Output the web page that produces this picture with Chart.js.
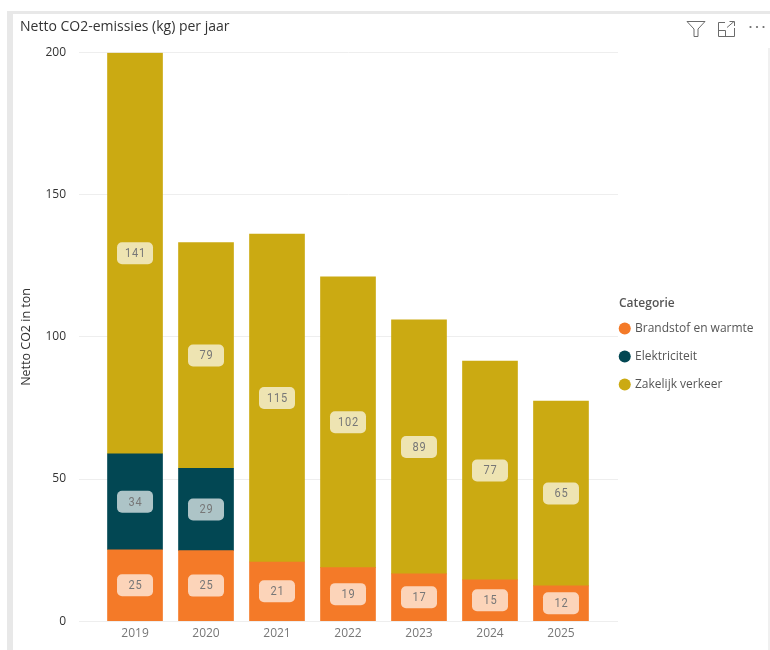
<!DOCTYPE html>
<html>
<head>
<meta charset="utf-8">
<title>Netto CO2-emissies</title>
<script src="https://cdn.jsdelivr.net/npm/chart.js@4"></script>
<style>
    html, body { margin: 0; padding: 0; background: #fff; }
    #wrap { position: relative; width: 770px; height: 650px; overflow: hidden; }
    #frame { position: absolute; left: 7px; top: 11px; width: 780px; height: 660px; border: solid #e8e8e8; border-width: 3px 0 0 6px; }
    #edge { position: absolute; left: 768px; top: 48px; width: 2px; height: 602px; background: #f0f0f0; }
    #chart { position: absolute; left: 0; top: 0; }
    #icons { position: absolute; left: 680px; top: 16px; }
</style>
</head>
<body>
<div id="wrap">
    <div id="frame"></div>
    <div id="edge"></div>
    <canvas id="chart" width="770" height="650"></canvas>
    <svg id="icons" width="90" height="24" fill="none" stroke="#6b6b6b" stroke-width="1">
        <path d="M7 5.5 H25 L18 13 V20.5 L14 20.5 V13 Z"/>
        <path d="M45 6.5 H38.5 V20.5 H54.5 V12 M38.5 14.5 H45.5 V20.5 M47 11.5 L54 5.5 M49.5 5.5 H54.5 V10"/>
        <circle cx="70.5" cy="11" r="1.1" fill="#6b6b6b" stroke="none"/>
        <circle cx="77" cy="11" r="1.1" fill="#6b6b6b" stroke="none"/>
        <circle cx="83.5" cy="11" r="1.1" fill="#6b6b6b" stroke="none"/>
    </svg>
</div>
<script>
const years = [2019, 2020, 2021, 2022, 2023, 2024, 2025];
const brandstof = [25.1, 24.8, 20.8, 18.8, 16.6, 14.5, 12.4];
const elektriciteit = [33.8, 29, null, null, null, null, null];
const zakelijk = [141.1, 79.4, 115.4, 102.4, 89.4, 77, 65];
const yTicks = [0, 50, 100, 150, 200];

const uiFont = "'Open Sans', 'Noto Sans', sans-serif";

// labels in a rounded, half transparent box in the middle of each bar piece
const pillLabels = {
    id: 'pillLabels',
    afterDatasetsDraw(chart) {
        const ctx = chart.ctx;
        chart.data.datasets.forEach((ds, i) => {
            chart.getDatasetMeta(i).data.forEach((bar, j) => {
                const v = ds.data[j];
                if (v == null) return;
                const y = (bar.y + bar.base) / 2;
                ctx.save();
                ctx.fillStyle = 'rgba(255,255,255,0.68)';
                ctx.beginPath();
                ctx.roundRect(bar.x - 18, y - 11, 36, 22, 5);
                ctx.fill();
                ctx.fillStyle = '#777';
                ctx.font = "13px Roboto, sans-serif";
                ctx.letterSpacing = '1px';
                ctx.textAlign = 'center';
                ctx.textBaseline = 'middle';
                // the original font is a narrow one, squeeze the digits a bit
                ctx.translate(bar.x + 0.5, y + 0.5);
                ctx.scale(0.85, 1);
                ctx.fillText(Math.round(v), 0, 0);
                ctx.restore();
            });
        });
    }
};

// the legend sits closer to the plot than Chart.js would put it, heading above the rows
const legendPlace = {
    id: 'legendPlace',
    afterLayout(chart) {
        chart.legend.left = 604.5;
        chart.legend.top = 306.5;
    },
    afterDraw(chart) {
        const ctx = chart.ctx;
        ctx.save();
        ctx.fillStyle = '#555';
        ctx.font = "600 12px " + uiFont;
        ctx.textBaseline = 'middle';
        ctx.fillText('Categorie', 619, 304);
        ctx.restore();
    }
};

new Chart(document.getElementById('chart'), {
    type: 'bar',
    data: {
        labels: years,
        datasets: [
            { label: 'Brandstof en warmte', data: brandstof, backgroundColor: '#f47a28' },
            { label: 'Elektriciteit', data: elektriciteit, backgroundColor: '#024753' },
            { label: 'Zakelijk verkeer', data: zakelijk, backgroundColor: '#cbaa12' }
        ]
    },
    plugins: [pillLabels, legendPlace],
    options: {
        responsive: false,
        animation: false,
        barThickness: 55,
        layout: { padding: { left: 20, right: 2, top: 19, bottom: 4.5 } },
        plugins: {
            tooltip: { enabled: false },
            title: {
                display: true,
                text: 'Netto CO2-emissies (kg) per jaar',
                align: 'start',
                color: '#333',
                font: { family: uiFont, size: 14, weight: 'normal' },
                padding: { top: 0, bottom: 17 }
            },
            legend: {
                position: 'right',
                align: 'start',
                maxWidth: 150,
                labels: {
                    usePointStyle: true,
                    pointStyle: 'circle',
                    boxWidth: 8.5,
                    boxHeight: 8.5,
                    padding: 16,
                    color: '#555',
                    font: { family: uiFont, size: 12 }
                }
            }
        },
        scales: {
            x: {
                type: 'linear',
                stacked: true,
                offset: false,
                min: 2018.211,
                max: 2025.803,
                grid: { display: false, drawTicks: false, tickLength: 0 },
                border: { display: false },
                afterBuildTicks(axis) { axis.ticks = years.map(v => ({ value: v })); },
                ticks: {
                    callback: v => String(v),
                    color: '#777',
                    font: { family: uiFont, size: 12 },
                    maxRotation: 0,
                    padding: 5
                }
            },
            y: {
                stacked: true,
                min: 0,
                max: 200,
                afterFit(axis) { axis.width = 59; },
                grid: { color: '#eeeeee', drawTicks: false },
                border: { display: false },
                afterBuildTicks(axis) { axis.ticks = yTicks.map(v => ({ value: v })); },
                ticks: {
                    color: '#333',
                    font: { family: uiFont, size: 12 },
                    padding: 13
                },
                title: {
                    display: true,
                    text: 'Netto CO2 in ton',
                    color: '#333',
                    font: { family: uiFont, size: 12.5 },
                    padding: { top: -1, bottom: 6 }
                }
            }
        }
    }
});
</script>
</body>
</html>
